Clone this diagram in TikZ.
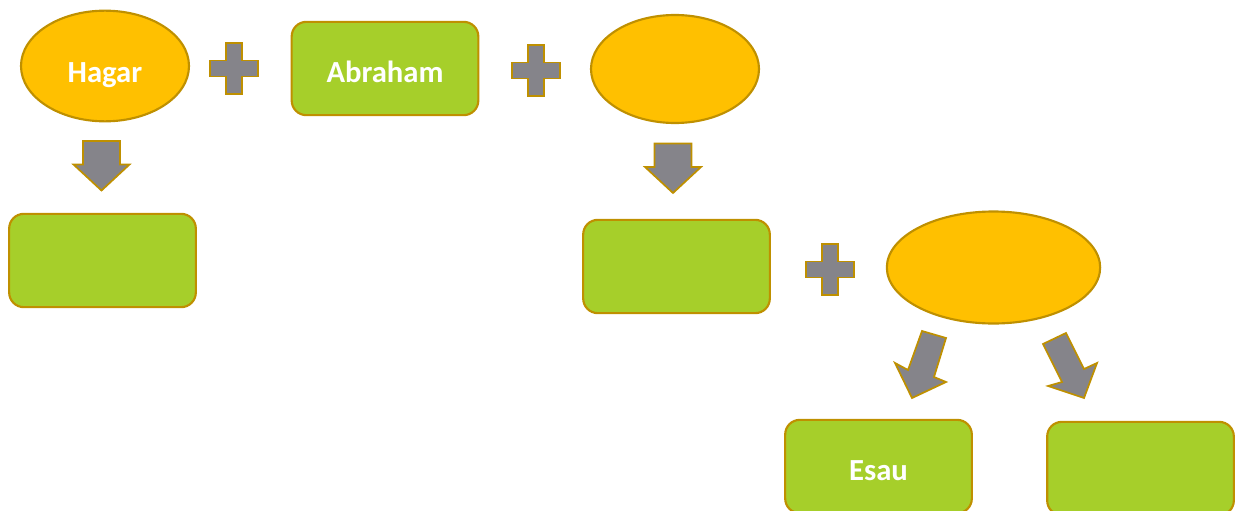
\documentclass[tikz,border=0pt]{standalone}
\usepackage{fontspec}
\setmainfont{Carlito}
\usetikzlibrary{shapes.geometric}
\definecolor{gold}{HTML}{FFC000}
\definecolor{edge}{HTML}{BF9000}
\definecolor{leaf}{HTML}{A6CF2A}
\definecolor{blockgray}{HTML}{85848A}
\tikzset{
  lbl/.style={font=\bfseries\fontsize{23}{26}\selectfont, text=white, text height=20.8pt, text depth=0pt},
  oval/.style={ellipse, draw=edge, fill=gold, line width=1.6pt, inner sep=0pt, lbl},
  box/.style={rectangle, rounded corners=11pt, draw=edge, fill=leaf, line width=1.6pt,
    inner sep=0pt, minimum width=140pt, minimum height=70pt, lbl},
  block/.style={draw=edge, fill=blockgray, line width=1.3pt, line join=miter}
}
\begin{document}
\begin{tikzpicture}[x=0.75pt,y=-0.75pt]
\useasboundingbox (0,0) rectangle (1237,510);
\clip (0,0) rectangle (1237,510);
% ovals
\node[oval, minimum width=126pt, minimum height=83pt, text height=24.5pt] (hagar) at (105,66) {Hagar};
\node[oval, minimum width=126pt, minimum height=81pt] (sarah) at (675,69) {};
\node[oval, minimum width=160pt, minimum height=84pt] (rebekah) at (993.5,267.5) {};
% boxes
\node[box] (abraham) at (385,68.5) {Abraham};
\node[box] (ishmael) at (102.5,260.5) {};
\node[box] (isaac) at (676.5,266.5) {};
\node[box] (esau) at (878.5,466.5) {Esau};
\node[box] (jacob) at (1140.5,468.5) {};
% plus signs
\foreach \n/\cx/\cy in {p1/234/68.5, p2/536/70.5, p3/830/269.5}{
  \coordinate (\n) at (\cx,\cy);
  \draw[block] ([shift={(-8,-25.5)}]\n) -- ++(16,0) -- ++(0,17.5) -- ++(16,0) -- ++(0,16)
    -- ++(-16,0) -- ++(0,17.5) -- ++(-16,0) -- ++(0,-17.5) -- ++(-16,0) -- ++(0,-16)
    -- ++(16,0) -- cycle;
}
% down arrows
\foreach \n/\cx/\cy in {d1/101.5/141, d2/673/143.5}{
  \coordinate (\n) at (\cx,\cy);
  \draw[block] ([shift={(-18.5,0)}]\n) -- ++(37,0) -- ++(0,23.5) -- ++(9.5,0)
    -- ++(-28,26) -- ++(-28,-26) -- ++(9.5,0) -- cycle;
}
% slanted arrows
\draw[block] (922,331) -- (946,338) -- (934,377) -- (946,382) -- (912,398) -- (895,363) -- (908,370) -- cycle;
\draw[block] (1043,344) -- (1066,333) -- (1084,369) -- (1097,363) -- (1084,398) -- (1048,386) -- (1062,382) -- cycle;
\end{tikzpicture}
\end{document}
